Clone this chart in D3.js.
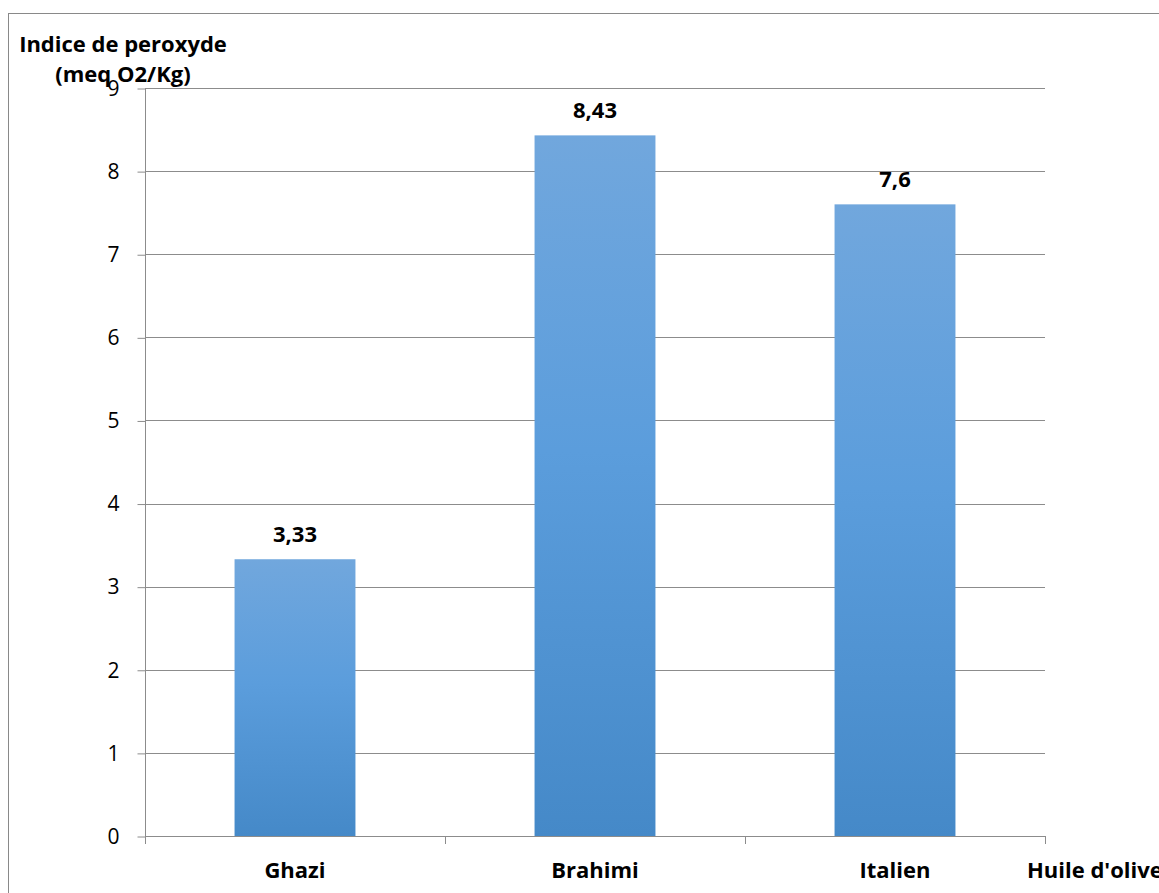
<!DOCTYPE html>
<html>
<head>
<meta charset="utf-8">
<script src="https://cdn.jsdelivr.net/npm/d3@7"></script>
<style>
  html, body { margin: 0; padding: 0; background: #fff; }
  svg { display: block; }
  text { font-family: "Open Sans", Lato, sans-serif; }
</style>
</head>
<body>
<svg id="chart" width="1159" height="893"></svg>
<script>
const categories = ["Ghazi", "Brahimi", "Italien"];
const values = [3.33, 8.43, 7.6];
const valueLabels = ["3,33", "8,43", "7,6"];
const yTicks = [0, 1, 2, 3, 4, 5, 6, 7, 8, 9];
const yTitle = ["Indice de peroxyde", "(meq O2/Kg)"];
const xTitle = "Huile d'olive";

const svg = d3.select("#chart");
const W = 1159, H = 893;
const plot = { left: 145, right: 1045, top: 88, bottom: 836 };
const FONT = "'Open Sans', Lato, sans-serif";
const BOLD = 22;

// outer chart border
svg.append("rect")
  .attr("x", 8.5).attr("y", 13.5)
  .attr("width", W + 10).attr("height", H + 10)
  .attr("fill", "none").attr("stroke", "#898989").attr("stroke-width", 1);

const x = d3.scaleBand().domain(categories)
  .range([plot.left, plot.right]).paddingInner(0.597).paddingOuter(0.2985);
const y = d3.scaleLinear().domain([0, 9]).range([plot.bottom, plot.top]);

// gradient
const defs = svg.append("defs");
const grad = defs.append("linearGradient").attr("id", "barGrad")
  .attr("x1", 0).attr("y1", 0).attr("x2", 0).attr("y2", 1);
grad.append("stop").attr("offset", "0%").attr("stop-color", "#71a7dd");
grad.append("stop").attr("offset", "45%").attr("stop-color", "#5b9ddc");
grad.append("stop").attr("offset", "100%").attr("stop-color", "#4589c8");

// gridlines
svg.append("g").selectAll("line").data(yTicks.filter(d => d > 0)).join("line")
  .attr("x1", plot.left).attr("x2", plot.right)
  .attr("y1", d => Math.round(y(d)) + 0.5).attr("y2", d => Math.round(y(d)) + 0.5)
  .attr("stroke", "#8c8c8c").attr("stroke-width", 1);

// bars
svg.append("g").selectAll("rect").data(values).join("rect")
  .attr("x", (d, i) => x(categories[i]))
  .attr("width", x.bandwidth())
  .attr("y", d => y(d))
  .attr("height", d => y(0) - y(d))
  .attr("fill", "url(#barGrad)");

// y axis
const yAxis = d3.axisLeft(y).tickValues(yTicks).tickSize(8).tickPadding(18)
  .tickFormat(d3.format("d"));
const gy = svg.append("g").attr("transform", `translate(${plot.left + 0.5},0.5)`).call(yAxis);
gy.select(".domain").attr("stroke", "#8c8c8c").attr("d", `M0,${plot.top}V${plot.bottom}`);
gy.selectAll(".tick line").attr("stroke", "#8c8c8c");
gy.selectAll(".tick text").attr("font-size", 21).attr("fill", "#000")
  .attr("font-family", FONT);

// x axis line and ticks at category boundaries
const boundaries = [plot.left, ...categories.map((c, i) => plot.left + x.step() * (i + 1))];
const gx = svg.append("g");
gx.append("line").attr("x1", plot.left).attr("x2", plot.right)
  .attr("y1", plot.bottom + 0.5).attr("y2", plot.bottom + 0.5).attr("stroke", "#8c8c8c");
gx.selectAll("line.t").data(boundaries).join("line").attr("class", "t")
  .attr("x1", d => Math.round(d) + 0.5).attr("x2", d => Math.round(d) + 0.5)
  .attr("y1", plot.bottom).attr("y2", plot.bottom + 8).attr("stroke", "#8c8c8c");
gx.selectAll("text").data(categories).join("text")
  .attr("x", d => x(d) + x.bandwidth() / 2)
  .attr("y", 878)
  .attr("text-anchor", "middle").attr("font-size", BOLD).attr("font-weight", "bold")
  .text(d => d);

// value labels
svg.append("g").selectAll("text").data(values).join("text")
  .attr("x", (d, i) => x(categories[i]) + x.bandwidth() / 2)
  .attr("y", d => y(d) - 17)
  .attr("text-anchor", "middle").attr("font-size", BOLD).attr("font-weight", "bold")
  .text((d, i) => valueLabels[i]);

// axis titles
svg.append("text").attr("x", 123).attr("y", 52).attr("text-anchor", "middle")
  .attr("font-size", BOLD).attr("font-weight", "bold")
  .selectAll("tspan").data(yTitle).join("tspan")
  .attr("x", 123).attr("dy", (d, i) => i === 0 ? 0 : 30).text(d => d);

svg.append("text").attr("x", 1027).attr("y", 878)
  .attr("font-size", BOLD).attr("font-weight", "bold").text(xTitle);
</script>
</body>
</html>
